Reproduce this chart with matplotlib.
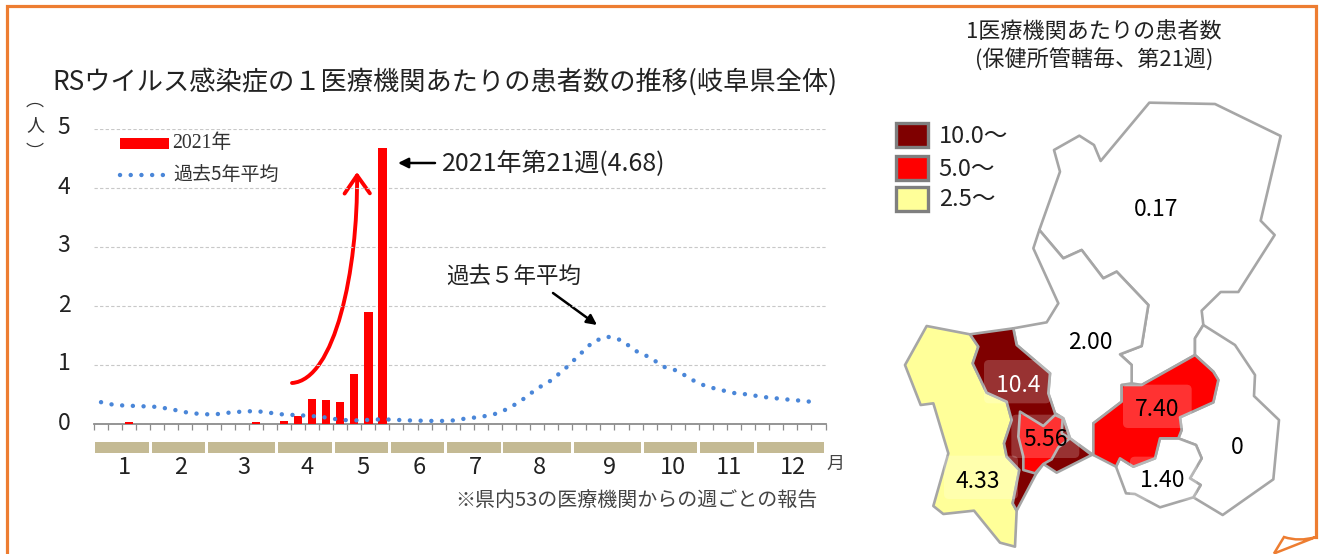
import matplotlib
matplotlib.use("Agg")
import matplotlib.pyplot as plt
from matplotlib.patches import Polygon, FancyBboxPatch, Rectangle, FancyArrowPatch, PathPatch
from matplotlib.path import Path
from matplotlib.transforms import ScaledTranslation

plt.rcParams['font.family'] = ['Noto Sans CJK JP', 'DejaVu Sans']

W, H = 1319, 554

weeks = list(range(1, 53))
avg5y = [.37,.32,.31,.30,.29,.25,.20,.17,.16,.19,.21,.22,.19,.16,.15,.135,.11,.07,.06,.07,.08,.07,.06,.055,.05,
         .06,.095,.12,.17,.265,.42,.60,.74,.94,1.17,1.40,1.48,1.42,1.24,1.13,.97,.90,.75,.64,.58,.525,.50,.46,.435,.41,.39,.36]
bar_weeks = [3, 12, 14, 15, 16, 17, 18, 19, 20, 21]
bar_vals = [.03, .03, .05, .14, .43, .40, .38, .84, 1.89, 4.68]
month_weeks = [4, 4, 5, 4, 4, 4, 4, 5, 5, 4, 4, 5]
month_labels = [str(m) for m in range(1, 13)]
y_ticks = [0, 1, 2, 3, 4, 5]

regions = {
 '0.17': [(808,38),(1005,42),(1202,138),(1142,392),(1184,435),(1075,606),(1022,606),(965,662),(970,705),(945,745),(945,795),(785,885),(755,880),(755,825),(720,793),(785,768),(805,645),(710,545),(670,565),(605,480),(550,505),(478,420),(540,245),(522,180),(598,137),(642,165),(662,213)],
 '2.00': [(478,420),(550,505),(605,480),(670,565),(710,545),(805,645),(785,768),(720,793),(755,825),(755,880),(725,885),(725,935),(640,1000),(640,1095),(570,1045),(550,985),(525,970),(505,910),(510,850),(410,765),(400,715),(500,697),(535,640),(460,475)],
 '0': [(970,705),(1065,765),(1125,855),(1122,918),(1197,990),(1180,1168),(1028,1275),(940,1222),(962,1185),(930,1165),(965,1105),(948,1065),(895,1045),(905,1020),(900,982),(1000,937),(1015,870),(1000,845),(945,795),(945,745)],
 '1.40': [(840,1045),(895,1045),(948,1065),(965,1105),(930,1165),(962,1185),(940,1222),(840,1252),(765,1212),(738,1210),(708,1130),(720,1105),(760,1130),(825,1105)],
 '4.33': [(140,708),(270,733),(295,770),(278,820),(320,908),(380,935),(395,990),(372,1060),(380,1100),(418,1140),(398,1240),(410,1262),(405,1370),(360,1358),(282,1262),(190,1272),(160,1248),(205,1090),(160,940),(122,945),(75,825)],
 '10.4': [(270,733),(400,715),(410,765),(510,850),(505,910),(525,970),(550,985),(570,1045),(635,1095),(530,1148),(490,1122),(468,1152),(410,1262),(398,1240),(418,1140),(380,1100),(372,1060),(395,990),(380,935),(320,908),(278,820),(295,770)],
 '5.56': [(420,965),(490,1008),(525,975),(548,985),(545,1030),(570,1045),(535,1072),(515,1108),(490,1122),(465,1150),(430,1140),(430,1100),(415,1040)],
 '7.40': [(945,795),(1000,845),(1015,870),(1000,937),(900,982),(905,1020),(895,1045),(840,1045),(825,1105),(760,1130),(720,1105),(708,1130),(640,1095),(640,1000),(725,935),(725,885),(785,885)],
}
region_colors = {'0.17':'white','2.00':'white','0':'white','1.40':'white','10.4':'#7F0000','4.33':'#FFFF99','5.56':'#FF0000','7.40':'#FF0000'}
region_labels = {'0.17':(827,359,'black'),'2.00':(630,758,'black'),'0':(1072,1074,'black'),'1.40':(848,1172,'black'),
                 '10.4':(415,886,'white'),'4.33':(292,1174,'black'),'5.56':(496,1049,'black'),'7.40':(832,958,'black')}
label_boxes = {'10.4':(312,810,200,130),'5.56':(394,974,204,130),'7.40':(729,884,206,130),'4.33':(192,1097,222,130),'1.40':(750,1100,200,130)}
legend_items = [('10.0～','#7F0000',100),('5.0～','#FF0000',198),('2.5～','#FFFF99',290)]

fig = plt.figure(figsize=(W/100, H/100), dpi=100, facecolor='white')

def rect(l, t, r, b):
    return [l/W, 1-b/H, (r-l)/W, (b-t)/H]

# overlay in pixel coordinates (frame, texts)
bg = fig.add_axes([0,0,1,1]); bg.set_xlim(0,W); bg.set_ylim(H,0); bg.axis('off')
bg.plot([7.3, 7.3, 1316, 1316], [554, 6, 6, 537], color='#ED7D31', lw=2.3, solid_joinstyle='miter')
fold = Path([(1316,537),(1274,553.5),(1284,537),(1299,542),(1316,537)],
            [Path.MOVETO,Path.LINETO,Path.LINETO,Path.CURVE3,Path.CURVE3])
bg.add_patch(PathPatch(fold, fc='none', ec='#ED7D31', lw=1.8))

ax = fig.add_axes(rect(94, 129, 825.5, 424)); ax.patch.set_alpha(0)
ax.set_xlim(0, 52); ax.set_ylim(0, 5)
ax.yaxis.grid(True, color='#C8C8C8', lw=0.8, ls=(0,(3,2)))
ax.set_axisbelow(True)
for s in ['top','right','left']:
    ax.spines[s].set_visible(False)
ax.spines['bottom'].set_color('#8C8C8C'); ax.spines['bottom'].set_linewidth(1.3)
ax.set_xticks(range(53)); ax.tick_params(axis='x', length=4, width=0.9, color='#8C8C8C', direction='out', labelbottom=False)
ax.set_yticks(y_ticks); ax.set_yticklabels([str(v) for v in y_ticks], fontsize=16.5, color='#222222')
ax.tick_params(axis='y', length=0, pad=17)
shift = ScaledTranslation(0, 3.5/100, fig.dpi_scale_trans)
for lab in ax.get_yticklabels():
    lab.set_transform(lab.get_transform() + shift)
ax.bar([w-.5 for w in bar_weeks], bar_vals, width=0.6, color='#FF0000', zorder=3)
ax.plot([w-.5 for w in weeks], avg5y, color='#4A86D8', lw=3.2, ls=(0,(0.01,2.4)), dash_capstyle='round', zorder=4)

# month blocks + labels
start = 0
for n, lab in zip(month_weeks, month_labels):
    ax.add_patch(Rectangle((start+.1, -0.30), n-.2, -.19, color='#C4BA94', clip_on=False, lw=0))
    ax.text(start+n/2+.15, -.745, lab, ha='center', va='center', fontsize=17, color='#222222', clip_on=False)
    start += n

bg.text(835, 464, '月', ha='center', va='center', fontsize=13, color='#444444')
bg.text(636, 500, '※県内53の医療機関からの週ごとの報告', ha='center', va='center', fontsize=14.4, color='#444444')
bg.text(445, 82, 'RSウイルス感染症の１医療機関あたりの患者数の推移(岐阜県全体)', ha='center', va='center', fontsize=18.9, color='#222222')
bg.text(35, 125, '人', ha='center', va='center', fontsize=13, color='#333333')
bg.text(35, 101, '\ufe35', ha='center', va='center', fontsize=13, color='#333333')
bg.text(35, 153, '\ufe36', ha='center', va='center', fontsize=13, color='#333333')

# chart legend
bg.add_patch(Rectangle((120,137.5),49,11.5,color='#FF0000',lw=0))
bg.plot([120,168],[175,175], color='#4A86D8', lw=3.2, ls=(0,(0.01,2.4)), dash_capstyle='round')
bg.text(172,143.5,'2021年',family=['Liberation Serif','Noto Sans CJK JP'],fontsize=14.2,va='center',color='#333333')
bg.text(173,175,'過去5年平均',fontsize=13.7,va='center',color='#333333')

# annotations
bg.annotate('', xy=(398,163), xytext=(435,163), arrowprops=dict(arrowstyle='-|>,head_length=0.6,head_width=0.3', color='black', lw=1.8, shrinkA=0, shrinkB=0))
bg.text(442,164,'2021年第21週(4.68)',fontsize=18,va='center',color='#222222')
bg.text(514,276,'過去５年平均',fontsize=16.2,ha='center',va='center',color='#222222')
bg.annotate('', xy=(597,325), xytext=(553,293), arrowprops=dict(arrowstyle='-|>,head_length=0.6,head_width=0.3', color='black', lw=1.8, shrinkA=0, shrinkB=0))
curve = Path([(292,383),(335,380),(358,270),(357,172)],[Path.MOVETO,Path.CURVE4,Path.CURVE4,Path.CURVE4])
bg.add_patch(FancyArrowPatch(path=curve, arrowstyle='->,head_length=5,head_width=3.5', color='#FF0000', lw=2.8, shrinkA=0, shrinkB=0, mutation_scale=2.6))

# right title
bg.text(1094,32,'1医療機関あたりの患者数',fontsize=15.9,ha='center',va='center',color='#222222')
bg.text(1094,60,'(保健所管轄毎、第21週)',fontsize=15.9,ha='center',va='center',color='#222222')

# map
m = fig.add_axes(rect(880,90,1310,550)); m.patch.set_alpha(0)
m.set_xlim(0,1290); m.set_ylim(1380,0); m.axis('off')
for key, pts in regions.items():
    m.add_patch(Polygon(pts, closed=True, fc=region_colors[key], ec='#A6A6A6', lw=1.9, joinstyle='round'))
for key,(x,y,w,h) in label_boxes.items():
    m.add_patch(FancyBboxPatch((x+15,y+15),w-30,h-30,boxstyle='round,pad=15',fc='white',ec='none',alpha=0.2,zorder=3))
for key,(x,y,c) in region_labels.items():
    m.text(x,y,key,color=c,fontsize=16.5,ha='center',va='center',zorder=4)
for txt,c,y in legend_items:
    m.add_patch(Rectangle((47,y),98,72,fc=c,ec='#7F7F7F',lw=2.4))
    m.text(176,y+40,txt,fontsize=17,va='center',color='#222222')

fig.savefig('out.png', dpi=100, facecolor='white')
